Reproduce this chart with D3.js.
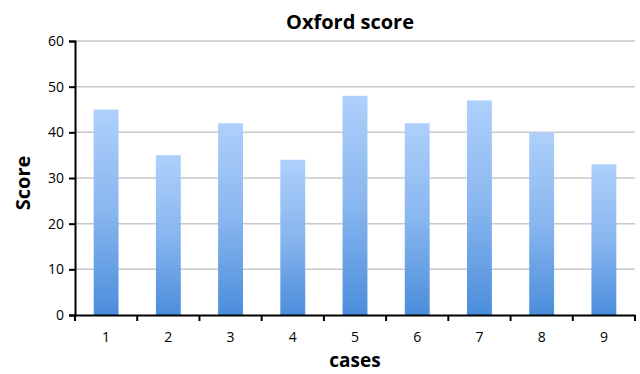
<!DOCTYPE html>
<html><head><meta charset="utf-8">
<script src="https://cdn.jsdelivr.net/npm/d3@7"></script>
<style>body{margin:0;background:#fff}svg{display:block}</style>
</head><body>
<script>
const categories = ["1","2","3","4","5","6","7","8","9"];
const scores = [45, 35, 42, 34, 48, 42, 47, 40, 33];
const yTicks = [0, 10, 20, 30, 40, 50, 60];
const title = "Oxford score";
const xTitle = "cases";
const yTitle = "Score";

const W = 640, H = 374;
const m = {left: 75, right: 5, top: 41, bottom: 59};
const svg = d3.select("body").append("svg").attr("width", W).attr("height", H);
const font = "'Open Sans', sans-serif";

const x = d3.scaleBand().domain(categories).range([m.left, W - m.right]).paddingInner(0.6).paddingOuter(0.3);
const y = d3.scaleLinear().domain([0, 60]).range([H - m.bottom, m.top]);

const defs = svg.append("defs");
const g = defs.append("linearGradient").attr("id", "grad").attr("x1", 0).attr("y1", 0).attr("x2", 0).attr("y2", 1);
g.append("stop").attr("offset", "0%").attr("stop-color", "#aed0fb");
g.append("stop").attr("offset", "50%").attr("stop-color", "#88b6ef");
g.append("stop").attr("offset", "100%").attr("stop-color", "#4b8ddb");

// gridlines
svg.append("g").selectAll("line").data(yTicks.filter(d => d > 0)).join("line")
  .attr("x1", m.left).attr("x2", W - m.right)
  .attr("y1", d => y(d)).attr("y2", d => y(d))
  .attr("stroke", "#c8c8c8").attr("stroke-width", 1.5);

// bars
svg.append("g").selectAll("rect").data(scores).join("rect")
  .attr("x", (d, i) => x(categories[i]))
  .attr("width", x.bandwidth())
  .attr("y", d => y(d))
  .attr("height", d => y(0) - y(d))
  .attr("fill", "url(#grad)");

// y axis
const yAxis = svg.append("g").attr("transform", `translate(${m.left},0)`)
  .call(d3.axisLeft(y).tickValues(yTicks).tickSize(6).tickPadding(5));
yAxis.select(".domain").attr("stroke", "#000").attr("stroke-width", 2);
yAxis.selectAll(".tick line").attr("stroke", "#000").attr("stroke-width", 2);
yAxis.selectAll("text").attr("font-family", font).attr("font-size", 14).attr("fill", "#000");

// x axis
const xAxis = svg.append("g").attr("transform", `translate(0,${y(0)})`)
  .call(d3.axisBottom(x).tickSize(0).tickPadding(17));
xAxis.select(".domain").attr("stroke", "#000").attr("stroke-width", 2);
xAxis.selectAll("text").attr("font-family", font).attr("font-size", 14).attr("fill", "#000");
// boundary ticks between categories
const bounds = d3.range(categories.length + 1).map(i => m.left + (W - m.right - m.left) * i / categories.length);
xAxis.append("g").selectAll("line").data(bounds).join("line")
  .attr("x1", d => d).attr("x2", d => d).attr("y1", 0).attr("y2", 6)
  .attr("stroke", "#000").attr("stroke-width", 2);

// titles
svg.append("text").attr("x", 350).attr("y", 29).attr("text-anchor", "middle")
  .attr("font-family", font).attr("font-weight", "bold").attr("font-size", 20).text(title);
svg.append("text").attr("x", 355).attr("y", 367).attr("text-anchor", "middle")
  .attr("font-family", font).attr("font-weight", "bold").attr("font-size", 19).text(xTitle);
svg.append("text").attr("transform", "translate(30,183) rotate(-90)").attr("text-anchor", "middle")
  .attr("font-family", font).attr("font-weight", "bold").attr("font-size", 20).text(yTitle);
</script>
</body></html>
